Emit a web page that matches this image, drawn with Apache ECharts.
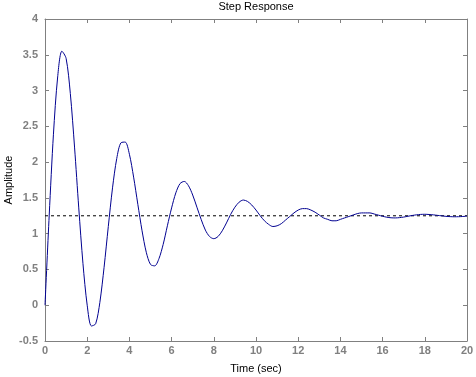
<!DOCTYPE html>
<html>
<head>
<meta charset="utf-8">
<script src="https://cdn.jsdelivr.net/npm/echarts@6/dist/echarts.min.js"></script>
<style>
  html, body { margin: 0; padding: 0; background: #fff; }
  #chart { width: 476px; height: 377px; }
</style>
</head>
<body>
<div id="chart"></div>
<script>
// step response samples (t in sec)
const timeValues = [
  0, 0.2, 0.4, 0.6, 0.8, 1, 1.2, 1.4, 1.6, 1.8, 2, 2.2, 2.4, 2.6, 2.8, 3, 3.2, 3.4, 3.6, 3.8,
  4, 4.2, 4.4, 4.6, 4.8, 5, 5.2, 5.4, 5.6, 5.8, 6, 6.2, 6.4, 6.6, 6.8, 7, 7.2, 7.4, 7.6, 7.8,
  8, 8.2, 8.4, 8.6, 8.8, 9, 9.2, 9.4, 9.6, 9.8, 10, 10.2, 10.4, 10.6, 10.8, 11, 11.2, 11.4, 11.6, 11.8,
  12, 12.2, 12.4, 12.6, 12.8, 13, 13.2, 13.4, 13.6, 13.8, 14, 14.2, 14.4, 14.6, 14.8, 15, 15.2, 15.4, 15.6, 15.8,
  16, 16.2, 16.4, 16.6, 16.8, 17, 17.2, 17.4, 17.6, 17.8, 18, 18.2, 18.4, 18.6, 18.8, 19, 19.2, 19.4, 19.6, 19.8, 20
];
const amplitudeValues = [
  0, 1.26, 2.39, 3.19, 3.55, 3.45, 2.96, 2.21, 1.36, 0.58, 0, -0.29, -0.26, 0.04, 0.53, 1.10, 1.64, 2.05, 2.27, 2.28,
  2.11, 1.79, 1.41, 1.04, 0.74, 0.57, 0.55, 0.65, 0.85, 1.11, 1.36, 1.57, 1.70, 1.73, 1.67, 1.54, 1.37, 1.20, 1.05, 0.96,
  0.93, 0.96, 1.04, 1.15, 1.27, 1.37, 1.44, 1.47, 1.45, 1.40, 1.33, 1.25, 1.18, 1.13, 1.10, 1.11, 1.14, 1.19, 1.24, 1.29,
  1.33, 1.35, 1.35, 1.33, 1.30, 1.26, 1.22, 1.20, 1.18, 1.18, 1.20, 1.22, 1.24, 1.26, 1.28, 1.29, 1.29, 1.29, 1.275, 1.259,
  1.243, 1.230, 1.222, 1.220, 1.224, 1.232, 1.243, 1.254, 1.263, 1.269, 1.271, 1.268, 1.263, 1.256, 1.249, 1.242, 1.238, 1.236, 1.237, 1.240, 1.245
];
const steadyState = 1.25;
const xRange = [0, 20];
const yRange = [-0.5, 4];

const gray = "#808080";
const labelFont = { color: gray, fontSize: 11, fontWeight: "bold", fontFamily: "Liberation Sans" };

let myChart = echarts.init(document.getElementById("chart"));
myChart.setOption({
  animation: false,
  title: {
    text: "Step Response",
    left: 256,
    top: 1,
    padding: 0,
    textAlign: "center",
    textStyle: { color: "#000", fontSize: 11, fontWeight: "normal", fontFamily: "Liberation Sans" },
  },
  grid: { left: 45, right: 9, top: 19, bottom: 36, outerBoundsMode: "none", containLabel: false },
  xAxis: [
    {
      type: "value",
      min: xRange[0],
      max: xRange[1],
      interval: 2,
      name: "Time (sec)",
      nameLocation: "middle",
      nameGap: 22,
      nameMoveOverlap: false,
      nameTextStyle: { color: "#000", fontSize: 11, fontFamily: "Liberation Sans" },
      axisLine: { show: true, onZero: false, lineStyle: { color: gray } },
      axisTick: { show: true, inside: true, length: 4, lineStyle: { color: gray } },
      axisLabel: Object.assign({ margin: 4 }, labelFont),
      splitLine: { show: false },
    },
    {
      type: "value",
      position: "top",
      min: xRange[0],
      max: xRange[1],
      interval: 2,
      axisLine: { show: true, onZero: false, lineStyle: { color: gray } },
      axisTick: { show: true, inside: true, length: 4, lineStyle: { color: gray } },
      axisLabel: { show: false },
      splitLine: { show: false },
    },
  ],
  yAxis: [
    {
      type: "value",
      min: yRange[0],
      max: yRange[1],
      interval: 0.5,
      name: "Amplitude",
      nameLocation: "middle",
      nameGap: 31,
      nameMoveOverlap: false,
      nameTextStyle: { color: "#000", fontSize: 11, fontFamily: "Liberation Sans" },
      axisLine: { show: true, onZero: false, lineStyle: { color: gray } },
      axisTick: { show: true, inside: true, length: 4, lineStyle: { color: gray } },
      axisLabel: Object.assign({ margin: 7 }, labelFont),
      splitLine: { show: false },
    },
    {
      type: "value",
      position: "right",
      min: yRange[0],
      max: yRange[1],
      interval: 0.5,
      axisLine: { show: true, onZero: false, lineStyle: { color: gray } },
      axisTick: { show: true, inside: true, length: 4, lineStyle: { color: gray } },
      axisLabel: { show: false },
      splitLine: { show: false },
    },
  ],
  series: [
    {
      type: "line",
      data: [[xRange[0], steadyState], [xRange[1], steadyState]],
      showSymbol: false,
      lineStyle: { color: "#000", width: 1, type: [3, 3] },
      z: 1,
    },
    {
      type: "line",
      data: timeValues.map((t, i) => [t, amplitudeValues[i]]),
      showSymbol: false,
      smooth: 0.3,
      lineStyle: { color: "#000090", width: 1 },
      z: 2,
    },
  ],
});
</script>
</body>
</html>
